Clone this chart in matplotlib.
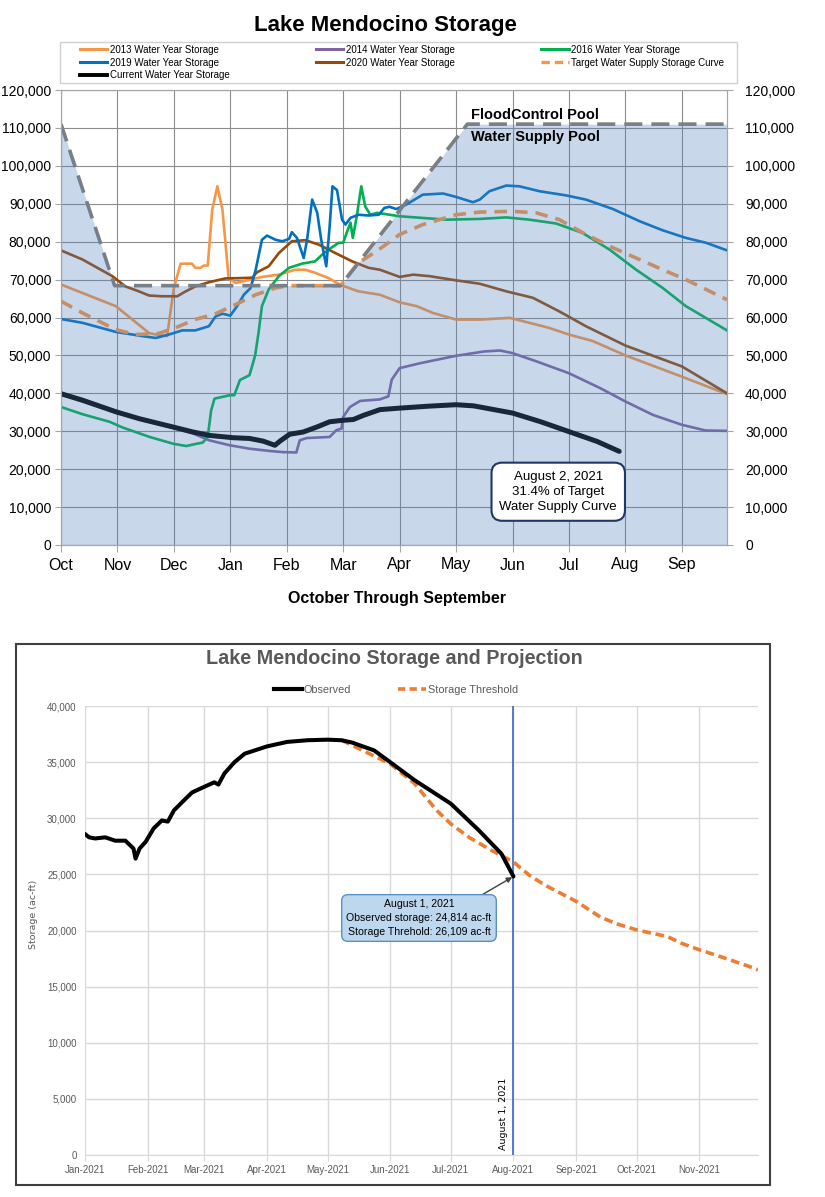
import numpy as np
import pandas as pd
import matplotlib
matplotlib.use('Agg')
import matplotlib.pyplot as plt
from matplotlib.lines import Line2D
from matplotlib.patches import Rectangle
from matplotlib.ticker import FuncFormatter
import matplotlib.dates as mdates

plt.rcParams['font.family'] = ['Liberation Sans', 'DejaVu Sans']

# ---------------- top chart data (x = months after Oct 1) ----------------
months = ['Oct', 'Nov', 'Dec', 'Jan', 'Feb', 'Mar', 'Apr', 'May', 'Jun', 'Jul', 'Aug', 'Sep']

flood_m = [0, 0.95, 4.95, 7.2, 11.8]
flood_v = [111000, 68400, 68400, 111000, 111000]

wy2013_m = [0, 0.97, 1.56, 1.68, 1.88, 2.0, 2.12, 2.32, 2.38, 2.47, 2.53, 2.6, 2.68, 2.77, 2.86, 2.97, 3.09, 3.3, 3.56, 3.86,
            4.15, 4.33, 4.5, 4.74, 4.95, 5.27, 5.65, 6.0, 6.3, 6.59, 7.0, 7.42, 7.95, 8.3, 8.65, 9.0, 9.42, 10.0, 11.0, 11.8]
wy2013_v = [68700, 63000, 55900, 55500, 55100, 67800, 74200, 74200, 73100, 73100, 73700, 73700, 88500, 94600, 88500, 70400, 69100, 69800, 70700, 71300,
            72600, 72600, 71800, 70400, 68600, 66900, 66000, 64000, 63000, 61200, 59450, 59450, 59900, 58600, 57250, 55500, 53800, 50000, 44400, 39800]

wy2014_m = [0, 0.98, 1.99, 2.34, 2.63, 2.99, 3.34, 3.7, 3.93, 4.17, 4.23, 4.35, 4.76, 4.88, 4.97, 5.0, 5.12, 5.3, 5.65, 5.8,
            5.86, 6.0, 6.38, 7.0, 7.5, 7.78, 8.0, 8.43, 9.0, 9.55, 10.0, 10.49, 11.0, 11.42, 11.8]
wy2014_v = [39700, 34900, 30900, 29400, 27600, 26300, 25400, 24800, 24500, 24400, 27600, 28200, 28500, 30300, 30700, 33800, 36400, 38000, 38400, 39200,
            43600, 46650, 48000, 49900, 51050, 51300, 50600, 48400, 45300, 41400, 37850, 34300, 31700, 30200, 30100]

wy2016_m = [0, 0.38, 0.86, 1.09, 1.57, 1.99, 2.22, 2.4, 2.51, 2.6, 2.66, 2.72, 2.99, 3.07, 3.17, 3.34, 3.44, 3.5, 3.56, 3.68,
            3.86, 4.04, 4.27, 4.5, 4.63, 4.74, 4.92, 5.0, 5.07, 5.13, 5.17, 5.24, 5.32, 5.39, 5.48, 5.6, 6.0, 6.83, 7.42, 7.89,
            8.3, 8.77, 9.24, 9.72, 10.19, 10.66, 11.07, 11.8]
wy2016_v = [36400, 34500, 32500, 31000, 28500, 26700, 26100, 26700, 27000, 28500, 35500, 38600, 39500, 39500, 43500, 44800, 50000, 56000, 63000, 67400,
            70900, 73100, 74200, 74800, 76600, 77900, 79700, 79700, 82700, 85000, 81000, 86700, 94600, 89300, 87100, 87600, 86700, 85800, 86000, 86400,
            85800, 84800, 82300, 77900, 72600, 67800, 63000, 56600]

wy2019_m = [0, 0.38, 0.97, 1.44, 1.68, 1.91, 2.15, 2.38, 2.62, 2.74, 2.86, 3.0, 3.12, 3.24, 3.36, 3.45, 3.56, 3.65, 3.8, 3.92,
            4.04, 4.09, 4.18, 4.3, 4.36, 4.45, 4.54, 4.61, 4.7, 4.76, 4.81, 4.89, 4.98, 5.04, 5.13, 5.27, 5.45, 5.63, 5.73, 5.82,
            5.94, 6.12, 6.41, 6.77, 7.0, 7.3, 7.42, 7.59, 7.89, 8.12, 8.48, 8.95, 9.3, 9.78, 10.25, 10.66, 11.07, 11.43, 11.8]
wy2019_v = [59600, 58600, 56200, 55100, 54600, 55500, 56600, 56600, 57700, 60300, 61000, 60500, 63000, 66000, 67800, 72600, 80500, 81600, 80500, 80100,
            80700, 82500, 81000, 75700, 80500, 91100, 87600, 80500, 73500, 84100, 94600, 93600, 85800, 84500, 86300, 87100, 86900, 87100, 88900, 89200,
            88600, 89800, 92400, 92700, 91800, 90400, 91100, 93300, 94800, 94600, 93300, 92200, 91100, 88600, 85400, 83000, 81000, 79700, 77700]

wy2020_m = [0, 0.38, 0.91, 1.14, 1.38, 1.56, 1.79, 2.06, 2.21, 2.38, 2.62, 2.91, 3.21, 3.39, 3.47, 3.68, 3.86, 4.09, 4.33, 4.57,
            4.86, 5.16, 5.45, 5.65, 6.0, 6.24, 6.53, 7.0, 7.42, 7.89, 8.36, 8.83, 9.3, 9.78, 10.0, 11.0, 11.8]
wy2020_v = [77700, 75300, 70900, 68200, 66900, 65800, 65600, 65600, 66900, 68200, 69300, 70300, 70400, 70500, 71900, 73500, 77000, 80100, 80400, 79200,
            77000, 74800, 73100, 72600, 70700, 71300, 70900, 69800, 68900, 66900, 65200, 61600, 57700, 54200, 52600, 47100, 40000]

target_m = [0, 0.38, 0.97, 1.32, 1.73, 2.03, 2.38, 2.74, 3.09, 3.45, 3.8, 4.04, 4.95, 5.27, 5.63, 6.0, 6.41, 7.0, 7.42, 8.0,
            8.42, 8.83, 9.3, 9.78, 10.25, 10.66, 11.07, 11.8]
target_v = [64300, 61200, 56800, 55500, 55800, 57300, 59500, 61000, 63400, 66000, 67800, 68400, 68400, 74400, 77900, 81900, 84500, 87100, 87800, 88000,
            87600, 85800, 81900, 78400, 75300, 72600, 70000, 64700]

current_m = [0, 0.38, 0.98, 1.39, 1.99, 2.34, 2.63, 3.05, 3.34, 3.58, 3.79, 3.88, 4.05, 4.29, 4.53, 4.76, 5.0, 5.18, 5.36, 5.65,
             6.0, 6.5, 7.0, 7.31, 8.0, 8.5, 9.0, 9.5, 9.89]
current_v = [39900, 38200, 35100, 33300, 31100, 29800, 28900, 28300, 28100, 27400, 26300, 27400, 29200, 29800, 31100, 32500, 32900, 33100, 34200, 35700,
             36100, 36600, 37000, 36700, 34800, 32500, 29900, 27300, 24700]

# ---------------- bottom chart data ----------------
obs_dates = ['2021-01-01', '2021-01-03', '2021-01-06', '2021-01-11', '2021-01-16', '2021-01-21', '2021-01-25', '2021-01-26',
             '2021-01-28', '2021-01-31', '2021-02-04', '2021-02-08', '2021-02-11', '2021-02-14', '2021-02-19', '2021-02-23',
             '2021-03-01', '2021-03-06', '2021-03-08', '2021-03-11', '2021-03-16', '2021-03-21', '2021-04-01', '2021-04-11',
             '2021-04-21', '2021-05-01', '2021-05-08', '2021-05-13', '2021-05-24', '2021-06-01', '2021-06-13', '2021-07-01',
             '2021-07-15', '2021-07-26', '2021-08-01']
obs_vals = [28600, 28300, 28200, 28300, 28000, 28000, 27300, 26400, 27300, 27900, 29100, 29800, 29700, 30700, 31600, 32300,
            32800, 33200, 33000, 34000, 35000, 35750, 36400, 36800, 36950, 37000, 36950, 36750, 36050, 35000, 33400, 31300,
            28900, 26850, 24814]

thr_dates = ['2021-05-08', '2021-05-12', '2021-06-01', '2021-06-13', '2021-06-24', '2021-07-01', '2021-07-10', '2021-07-21',
             '2021-08-01', '2021-08-09', '2021-08-17', '2021-09-01', '2021-09-13', '2021-09-21', '2021-10-01', '2021-10-16',
             '2021-10-24', '2021-11-01', '2021-11-11', '2021-11-24', '2021-11-30']
thr_vals = [36950, 36600, 34850, 33100, 30700, 29500, 28300, 27150, 26109, 24900, 24000, 22600, 21200, 20600, 20050, 19470,
            18800, 18280, 17700, 16900, 16500]

W, H = 825, 1197
fig = plt.figure(figsize=(W / 100, H / 100), dpi=100)
comma = FuncFormatter(lambda v, p: f'{int(v):,}')

# ====================== top chart ======================
ax = fig.add_axes([61 / W, 1 - 545 / H, 666 / W, 455 / H])
ax.set_axisbelow(True)
ax.grid(True, color='#8c8c8c', lw=0.8)

c2013, c2014, c2016 = '#f79646', '#8064a2', '#00b050'
c2019, c2020 = '#0070c0', '#984807'

ax.plot(wy2014_m, wy2014_v, color=c2014, lw=1.9, zorder=3)
ax.plot(wy2013_m, wy2013_v, color=c2013, lw=1.9, zorder=3)
ax.plot(wy2016_m, wy2016_v, color=c2016, lw=1.9, zorder=3)
ax.plot(wy2020_m, wy2020_v, color=c2020, lw=1.9, zorder=3)
ax.plot(wy2019_m, wy2019_v, color=c2019, lw=1.9, zorder=3)
ax.plot(target_m, target_v, color=c2013, lw=2.6, ls=(0, (3.5, 2.2)), zorder=3)
ax.plot(current_m, current_v, color='black', lw=3.6, solid_capstyle='round', zorder=4)
ax.plot(flood_m, flood_v, color='#7f7f7f', lw=2.6, ls=(0, (5, 2.5)), zorder=4)

# translucent water supply pool over everything below the flood control curve
ax.fill_between(flood_m, flood_v, 0, color='#4f81bd', alpha=0.31, lw=0, zorder=5)

ax.text(7.27, 113400, 'FloodControl Pool', fontsize=10.5, fontweight='bold', va='center', zorder=6)
ax.text(7.27, 107600, 'Water Supply Pool', fontsize=10.5, fontweight='bold', va='center', zorder=6)
ax.text(8.81, 14050, 'August 2, 2021\n31.4% of Target\nWater Supply Curve', fontsize=9.5, ha='center', va='center',
        linespacing=1.35, zorder=7,
        bbox=dict(boxstyle='round,pad=0.6,rounding_size=0.8', fc='white', ec='#203864', lw=1.5))

ax.set_xlim(0, 11.8)
ax.set_ylim(0, 120000)
ax.set_xticks(range(12))
ax.set_xticklabels(months, fontsize=11.5)
ax.set_yticks(range(0, 120001, 10000))
ax.yaxis.set_major_formatter(comma)
ax.tick_params(axis='y', labelsize=10, length=4, color='#a6a6a6', pad=3)
ax.tick_params(axis='x', length=5, color='#a6a6a6', pad=4)
for s in ax.spines.values():
    s.set_color('#a6a6a6')

ax_r = ax.twinx()
ax_r.set_ylim(0, 120000)
ax_r.set_yticks(range(0, 120001, 10000))
ax_r.yaxis.set_major_formatter(comma)
ax_r.tick_params(axis='y', labelsize=10, length=4, color='#a6a6a6', pad=9)
for s in ax_r.spines.values():
    s.set_color('#a6a6a6')

fig.text(385 / W, 1 - 25 / H, 'Lake Mendocino Storage', fontsize=16, fontweight='bold', ha='center', va='center')
fig.text(397 / W, 1 - 599 / H, 'October Through September', fontsize=11.5, fontweight='bold', ha='center', va='center')

handles = [
    Line2D([], [], color=c2013, lw=2.2, label='2013 Water Year Storage'),
    Line2D([], [], color=c2019, lw=2.2, label='2019 Water Year Storage'),
    Line2D([], [], color='black', lw=2.8, label='Current Water Year Storage'),
    Line2D([], [], color=c2014, lw=2.2, label='2014 Water Year Storage'),
    Line2D([], [], color=c2020, lw=2.2, label='2020 Water Year Storage'),
    Line2D([], [], color=c2016, lw=2.2, label='2016 Water Year Storage'),
    Line2D([], [], color=c2013, lw=2.4, ls=(0, (2.5, 1.5)), label='Target Water Supply Storage Curve'),
]
fig.add_artist(Rectangle((60 / W, 1 - 83 / H), 677 / W, 41 / H, transform=fig.transFigure,
                         fill=True, fc='white', ec='#d0d0d0', lw=1.0))
fig.legend(handles=handles, ncol=3, loc='center', mode='expand',
           bbox_to_anchor=(79 / W, 1 - 82 / H, 646 / W, 39 / H), fontsize=7, handlelength=2.8,
           handletextpad=0.25, labelspacing=0.3, borderaxespad=0, borderpad=0.1, columnspacing=1.0,
           frameon=False)

# ====================== bottom chart ======================
fig.add_artist(Rectangle((16 / W, 12 / H), 754 / W, 541 / H, transform=fig.transFigure,
                         fill=False, ec='#404040', lw=1.5))

ax2 = fig.add_axes([85 / W, 42 / H, 673 / W, 449 / H])
grey = '#595959'
obs_x = pd.to_datetime(obs_dates)
thr_x = pd.to_datetime(thr_dates)
aug1 = pd.Timestamp('2021-08-01')

ax2.plot(thr_x, thr_vals, color='#ed7d31', lw=2.6, ls=(0, (2.4, 1.3)), zorder=3)
ax2.plot(obs_x, obs_vals, color='black', lw=2.9, solid_capstyle='round', zorder=4)
ax2.axvline(aug1, color='#4472c4', lw=1.3, zorder=2)

ax2.set_xlim(pd.Timestamp('2021-01-01'), pd.Timestamp('2021-11-30'))
ax2.set_ylim(0, 40000)
ax2.set_xticks(pd.date_range('2021-01-01', '2021-11-01', freq='MS'))
ax2.xaxis.set_major_formatter(mdates.DateFormatter('%b-%Y'))
ax2.set_yticks(range(0, 40001, 5000))
ax2.yaxis.set_major_formatter(comma)
ax2.grid(True, color='#d9d9d9', lw=1.0)
ax2.set_axisbelow(True)
ax2.tick_params(axis='both', labelsize=7, labelcolor=grey, length=0, pad=6)
ax2.tick_params(axis='x', length=4, color='#d9d9d9', pad=3)
for s in ax2.spines.values():
    s.set_visible(False)
ax2.spines['bottom'].set_visible(True)
ax2.spines['bottom'].set_color('#d9d9d9')

ax2.text(aug1 - pd.Timedelta(days=2.5), 450, 'August 1, 2021', rotation=90, fontsize=6.8, family='DejaVu Sans',
         ha='right', va='bottom', zorder=5)
ax2.annotate('August 1, 2021\nObserved storage: 24,814 ac-ft\nStorage Threhold: 26,109 ac-ft',
             xy=(aug1, 24814), xytext=(419 / W, 1 - 918 / H), textcoords='figure fraction',
             fontsize=7.6, ha='center', va='center', linespacing=1.45, zorder=6,
             bbox=dict(boxstyle='round,pad=0.45,rounding_size=0.6', fc='#bdd7ee', ec='#5b8fc7', lw=1.0),
             arrowprops=dict(arrowstyle='-|>', color='#404040', lw=1.0, shrinkA=0, shrinkB=1,
                             relpos=(0.88, 1.0), mutation_scale=8))

fig.text(394 / W, 1 - 659 / H, 'Lake Mendocino Storage and Projection', fontsize=14.2, fontweight='bold',
         color=grey, ha='center', va='center')
fig.text(34 / W, 1 - 914 / H, 'Storage (ac-ft)', rotation=90, fontsize=6.8, family='DejaVu Sans',
         color=grey, ha='center', va='center')

h2 = [Line2D([], [], color='black', lw=3, label='Observed'),
      Line2D([], [], color='#ed7d31', lw=2.6, ls=(0, (2.0, 1.2)), label='Storage Threshold')]
fig.legend(handles=h2, ncol=2, loc='center', bbox_to_anchor=(396 / W, 1 - 690 / H), fontsize=7.8,
           frameon=False, handlelength=2.6, handletextpad=0.15, columnspacing=4.3, labelcolor=grey)

fig.savefig('out.png', dpi=100)
